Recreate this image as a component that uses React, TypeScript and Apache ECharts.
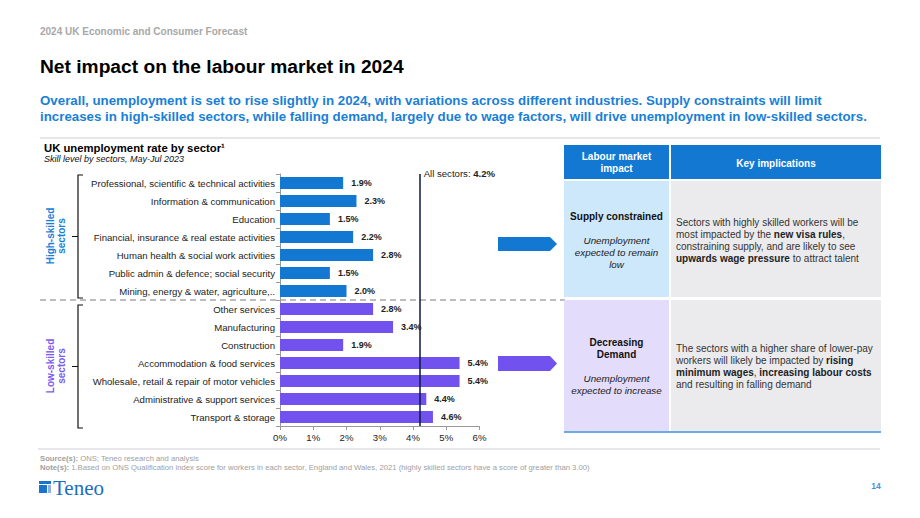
import React, { useEffect, useRef } from "react";
import * as echarts from "echarts";

const CATEGORIES = [
  "Professional, scientific & technical activities",
  "Information & communication",
  "Education",
  "Financial, insurance & real estate activities",
  "Human health & social work activities",
  "Public admin & defence; social security",
  "Mining, energy & water, agriculture,..",
  "Other services",
  "Manufacturing",
  "Construction",
  "Accommodation & food services",
  "Wholesale, retail & repair of motor vehicles",
  "Administrative & support services",
  "Transport & storage",
];
const HIGH_SKILLED_VALUES = [1.9, 2.3, 1.5, 2.2, 2.8, 1.5, 2.0];
const LOW_SKILLED_VALUES = [2.8, 3.4, 1.9, 5.4, 5.4, 4.4, 4.6];
const ALL_SECTORS = 4.2;
const X_MIN = 0;
const X_MAX = 6;
const X_INTERVAL = 1;

const FONT = "'Liberation Sans', Arial, sans-serif";
const BLUE = "#1278d2";
const PURPLE = "#7152ef";
const TEXT = "#222222";

function App() {
  const ref = useRef<HTMLDivElement>(null);

  useEffect(() => {
    if (!ref.current) return;
    document.body.style.margin = "0";
    const chart = echarts.init(ref.current, undefined, { renderer: "svg" });

    const data = [
      ...HIGH_SKILLED_VALUES.map((v) => ({ value: v, itemStyle: { color: BLUE } })),
      ...LOW_SKILLED_VALUES.map((v) => ({ value: v, itemStyle: { color: PURPLE } })),
    ];

    const t = (x: number, y: number, text: string, style: any = {}, extra: any = {}) => ({
      type: "text",
      x,
      y,
      silent: true,
      ...extra,
      style: {
        text,
        fontFamily: FONT,
        fontSize: 10,
        fill: TEXT,
        verticalAlign: "middle",
        ...style,
      },
    });

    const rect = (x: number, y: number, w: number, h: number, fill: string) => ({
      type: "rect",
      silent: true,
      shape: { x, y, width: w, height: h },
      style: { fill },
    });

    const bracket = (top: number, bottom: number) => ({
      type: "polyline",
      silent: true,
      shape: {
        points: [
          [83, top],
          [78, top],
          [78, (top + bottom) / 2],
          [72, (top + bottom) / 2],
          [78, (top + bottom) / 2],
          [78, bottom],
          [83, bottom],
        ],
      },
      style: { stroke: "#111", lineWidth: 1.2, fill: "none" },
    });

    const arrow = (yTop: number, yBot: number, color: string) => ({
      type: "polygon",
      silent: true,
      shape: {
        points: [
          [498, yTop],
          [550, yTop],
          [557, (yTop + yBot) / 2],
          [550, yBot],
          [498, yBot],
        ],
      },
      style: { fill: color },
    });

    const richB = { b: { fontWeight: "bold", fontFamily: FONT, fontSize: 10, fill: TEXT } };
    const bodyStyle = { fontSize: 10, fill: "#333", rich: richB };
    const footRich = { b: { fontWeight: "bold", fontSize: 7.7, fill: "#a0a0a0", fontFamily: FONT } };

    const graphic: any[] = [
      // header
      t(40, 31, "2024 UK Economic and Consumer Forecast", { fontSize: 10, fontWeight: "bold", fill: "#a8a8a8" }),
      t(40, 66, "Net impact on the labour market in 2024", { fontSize: 19.2, fontWeight: "bold", fill: "#000" }),
      t(
        40,
        100,
        "Overall, unemployment is set to rise slightly in 2024, with variations across different industries. Supply constraints will limit",
        { fontSize: 13.3, fontWeight: "bold", fill: "#1a7fd6" }
      ),
      t(
        40,
        116,
        "increases in high-skilled sectors, while falling demand, largely due to wage factors, will drive unemployment in low-skilled sectors.",
        { fontSize: 13.3, fontWeight: "bold", fill: "#1a7fd6" }
      ),
      { type: "line", silent: true, shape: { x1: 40, y1: 138, x2: 880, y2: 138 }, style: { stroke: "#dcdce4", lineWidth: 1.5 } },
      // chart titles
      t(44, 148, "UK unemployment rate by sector¹", { fontSize: 11.3, fontWeight: "bold", fill: "#000" }),
      t(44, 159, "Skill level by sectors, May-Jul 2023", { fontSize: 9, fontStyle: "italic", fill: "#111" }),
      // separator dashed
      {
        type: "line",
        silent: true,
        shape: { x1: 40, y1: 300, x2: 565, y2: 300 },
        style: { stroke: "#a8a8a8", lineWidth: 1.5, lineDash: [6, 4] },
      },
      bracket(175, 298),
      bracket(305, 428),
      t(
        56,
        236,
        "High-skilled\nsectors",
        { fontSize: 10, fontWeight: "bold", fill: "#1a7fd6", align: "center", lineHeight: 11 },
        { rotation: Math.PI / 2 }
      ),
      t(
        56,
        366,
        "Low-skilled\nsectors",
        { fontSize: 10, fontWeight: "bold", fill: "#7a5cf0", align: "center", lineHeight: 11 },
        { rotation: Math.PI / 2 }
      ),
      arrow(237, 251, "#1278d2"),
      arrow(356, 371, "#7152ef"),
      // table header
      rect(564, 145, 105, 34, "#1278d2"),
      rect(671, 145, 210, 34, "#1278d2"),
      t(616.5, 162, "Labour market\nimpact", { fontSize: 10, fontWeight: "bold", fill: "#fff", align: "center", lineHeight: 12 }),
      t(776, 163, "Key implications", { fontSize: 10, fontWeight: "bold", fill: "#fff", align: "center" }),
      // row 1
      rect(564, 181, 105, 116, "#cde7fb"),
      rect(671, 181, 210, 116, "#ebebee"),
      t(616.5, 216, "Supply constrained", { fontSize: 10, fontWeight: "bold", fill: "#111", align: "center" }),
      t(616.5, 252, "Unemployment\nexpected to remain\nlow", {
        fontSize: 9.8,
        fontStyle: "italic",
        fill: "#222",
        align: "center",
        lineHeight: 12,
      }),
      t(676, 222, "Sectors with highly skilled workers will be", bodyStyle),
      t(676, 234.3, "most impacted by the {b|new visa rules},", bodyStyle),
      t(676, 246.6, "constraining supply, and are likely to see", bodyStyle),
      t(676, 258.9, "{b|upwards wage pressure} to attract talent", bodyStyle),
      // row 2
      rect(564, 300, 105, 131, "#e3ddfb"),
      rect(671, 300, 210, 131, "#ebebee"),
      t(616.5, 348, "Decreasing\nDemand", { fontSize: 10, fontWeight: "bold", fill: "#111", align: "center", lineHeight: 12 }),
      t(616.5, 384, "Unemployment\nexpected to increase", {
        fontSize: 9.8,
        fontStyle: "italic",
        fill: "#222",
        align: "center",
        lineHeight: 12,
      }),
      t(676, 348, "The sectors with a higher share of lower-pay", bodyStyle),
      t(676, 360.3, "workers will likely be impacted by {b|rising}", bodyStyle),
      t(676, 372.6, "{b|minimum wages}, {b|increasing labour costs}", bodyStyle),
      t(676, 384.9, "and resulting in falling demand", bodyStyle),
      { type: "line", silent: true, shape: { x1: 564, y1: 432, x2: 881, y2: 432 }, style: { stroke: "#3d8fd9", lineWidth: 1.5 } },
      // footer
      { type: "line", silent: true, shape: { x1: 38, y1: 449, x2: 880, y2: 449 }, style: { stroke: "#e0e0e6", lineWidth: 1.5 } },
      t(40, 458, "{b|Source(s):} ONS; Teneo research and analysis", {
        fontSize: 7.7,
        fill: "#a0a0a0",
        rich: footRich,
      }),
      t(
        40,
        467,
        "{b|Note(s):} 1.Based on ONS Qualification index score for workers in each sector, England and Wales, 2021 (highly skilled sectors have a score of greater than 3.00)",
        { fontSize: 7.7, fill: "#a0a0a0", rich: footRich }
      ),
      rect(39, 481, 12, 3, "#1874cd"),
      rect(39, 485, 8, 8, "#1874cd"),
      rect(48, 485, 3, 8, "#8fb3dc"),
      t(53, 488, "Teneo", { fontSize: 21, fontFamily: "'Liberation Serif', 'Times New Roman', serif", fill: "#1b6dc1" }),
      t(876, 486, "14", { fontSize: 8.5, fontWeight: "bold", fill: "#4a90d9", align: "center" }),
    ];

    const option: any = {
      animation: false,
      backgroundColor: "#ffffff",
      textStyle: { fontFamily: FONT },
      grid: { left: 280, top: 174, width: 199.5, height: 252, containLabel: false },
      xAxis: {
        type: "value",
        min: X_MIN,
        max: X_MAX,
        interval: X_INTERVAL,
        axisLine: { show: true, lineStyle: { color: "#9a9a9a", width: 1 } },
        axisTick: { show: true, length: 4, lineStyle: { color: "#9a9a9a" } },
        axisLabel: { formatter: "{value}%", fontSize: 9.6, color: TEXT, margin: 6, fontFamily: FONT },
        splitLine: { show: false },
      },
      yAxis: {
        type: "category",
        inverse: true,
        data: CATEGORIES,
        axisLine: { show: true, lineStyle: { color: "#9a9a9a", width: 1 } },
        axisTick: { show: true, length: 4, lineStyle: { color: "#9a9a9a" } },
        axisLabel: { fontSize: 9.6, color: TEXT, margin: 5, fontFamily: FONT },
      },
      series: [
        {
          type: "bar",
          data,
          barWidth: 12,
          label: {
            show: true,
            position: "right",
            distance: 8,
            fontSize: 9,
            fontWeight: "bold",
            color: TEXT,
            fontFamily: FONT,
            formatter: (p: any) => Number(p.value).toFixed(1) + "%",
          },
          markLine: {
            silent: true,
            symbol: "none",
            label: { show: false },
            lineStyle: { color: "#0b1a45", width: 1.5, type: "solid" },
            data: [{ xAxis: ALL_SECTORS }],
          },
        },
      ],
      graphic,
    };

    chart.setOption(option);
    const px = chart.convertToPixel({ gridIndex: 0 }, [ALL_SECTORS, 0]) as number[];
    chart.setOption({
      graphic: [
        ...graphic,
        t(px[0] + 4, 173, "All sectors: {b|" + ALL_SECTORS.toFixed(1) + "%}", {
          fontSize: 9.6,
          fill: TEXT,
          rich: { b: { fontWeight: "bold", fontSize: 9.6, fill: TEXT, fontFamily: FONT } },
        }),
      ],
    });

    return () => chart.dispose();
  }, []);

  return (
    <div
      ref={ref}
      style={{ position: "absolute", left: 0, top: 0, width: 920, height: 518 }}
    />
  );
}

export default App;
